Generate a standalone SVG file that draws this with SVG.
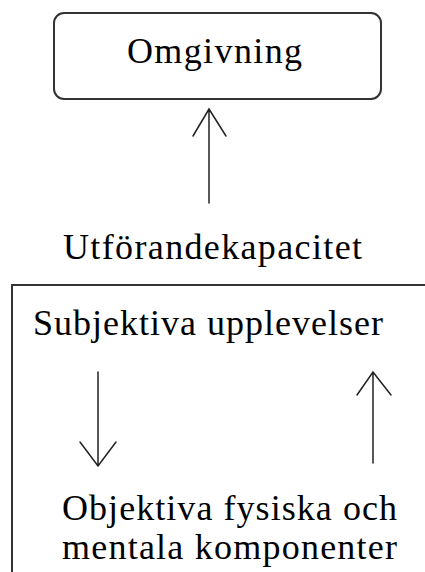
<svg xmlns="http://www.w3.org/2000/svg" width="425" height="572" viewBox="0 0 425 572">
  <style>
    .box { fill: #ffffff; stroke: #333333; stroke-width: 2; }
    .lbl { font-family: "Liberation Serif", "Times New Roman", serif; font-size: 36px; fill: #000000; }
    .edge { fill: none; stroke: #222222; stroke-width: 1.5; stroke-linecap: round; stroke-linejoin: miter; }
  </style>
  <rect x="0" y="0" width="425" height="572" fill="#ffffff"/>

  <g id="omgivning">
    <rect class="box" x="54" y="13" width="327" height="86" rx="10" ry="10"/>
    <text class="lbl" x="127" y="63" textLength="175" lengthAdjust="spacing">Omgivning</text>
  </g>

  <g id="utforandekapacitet">
    <text class="lbl" x="63" y="259" textLength="299" lengthAdjust="spacing">Utförandekapacitet</text>
  </g>

  <g id="individ">
    <rect class="box" x="12" y="285" width="440" height="310"/>
  </g>

  <g id="subjektiva">
    <text class="lbl" x="33" y="335" textLength="350" lengthAdjust="spacing">Subjektiva upplevelser</text>
  </g>

  <g id="objektiva">
    <text class="lbl" x="62" y="520" textLength="335" lengthAdjust="spacing">Objektiva fysiska och</text>
    <text class="lbl" x="62" y="559" textLength="335" lengthAdjust="spacing">mentala komponenter</text>
  </g>

  <g id="connectors">
    <!-- capacity to environment -->
    <path class="edge" d="M209 203 V109 M193 136 L209 109 L226 136"/>
    <!-- subjective to objective -->
    <path class="edge" d="M98 372 V466 M80 442 L98 466 L116 442"/>
    <!-- objective to subjective -->
    <path class="edge" d="M373 463 V372 M357 395 L373 372 L391 395"/>
  </g>
</svg>
